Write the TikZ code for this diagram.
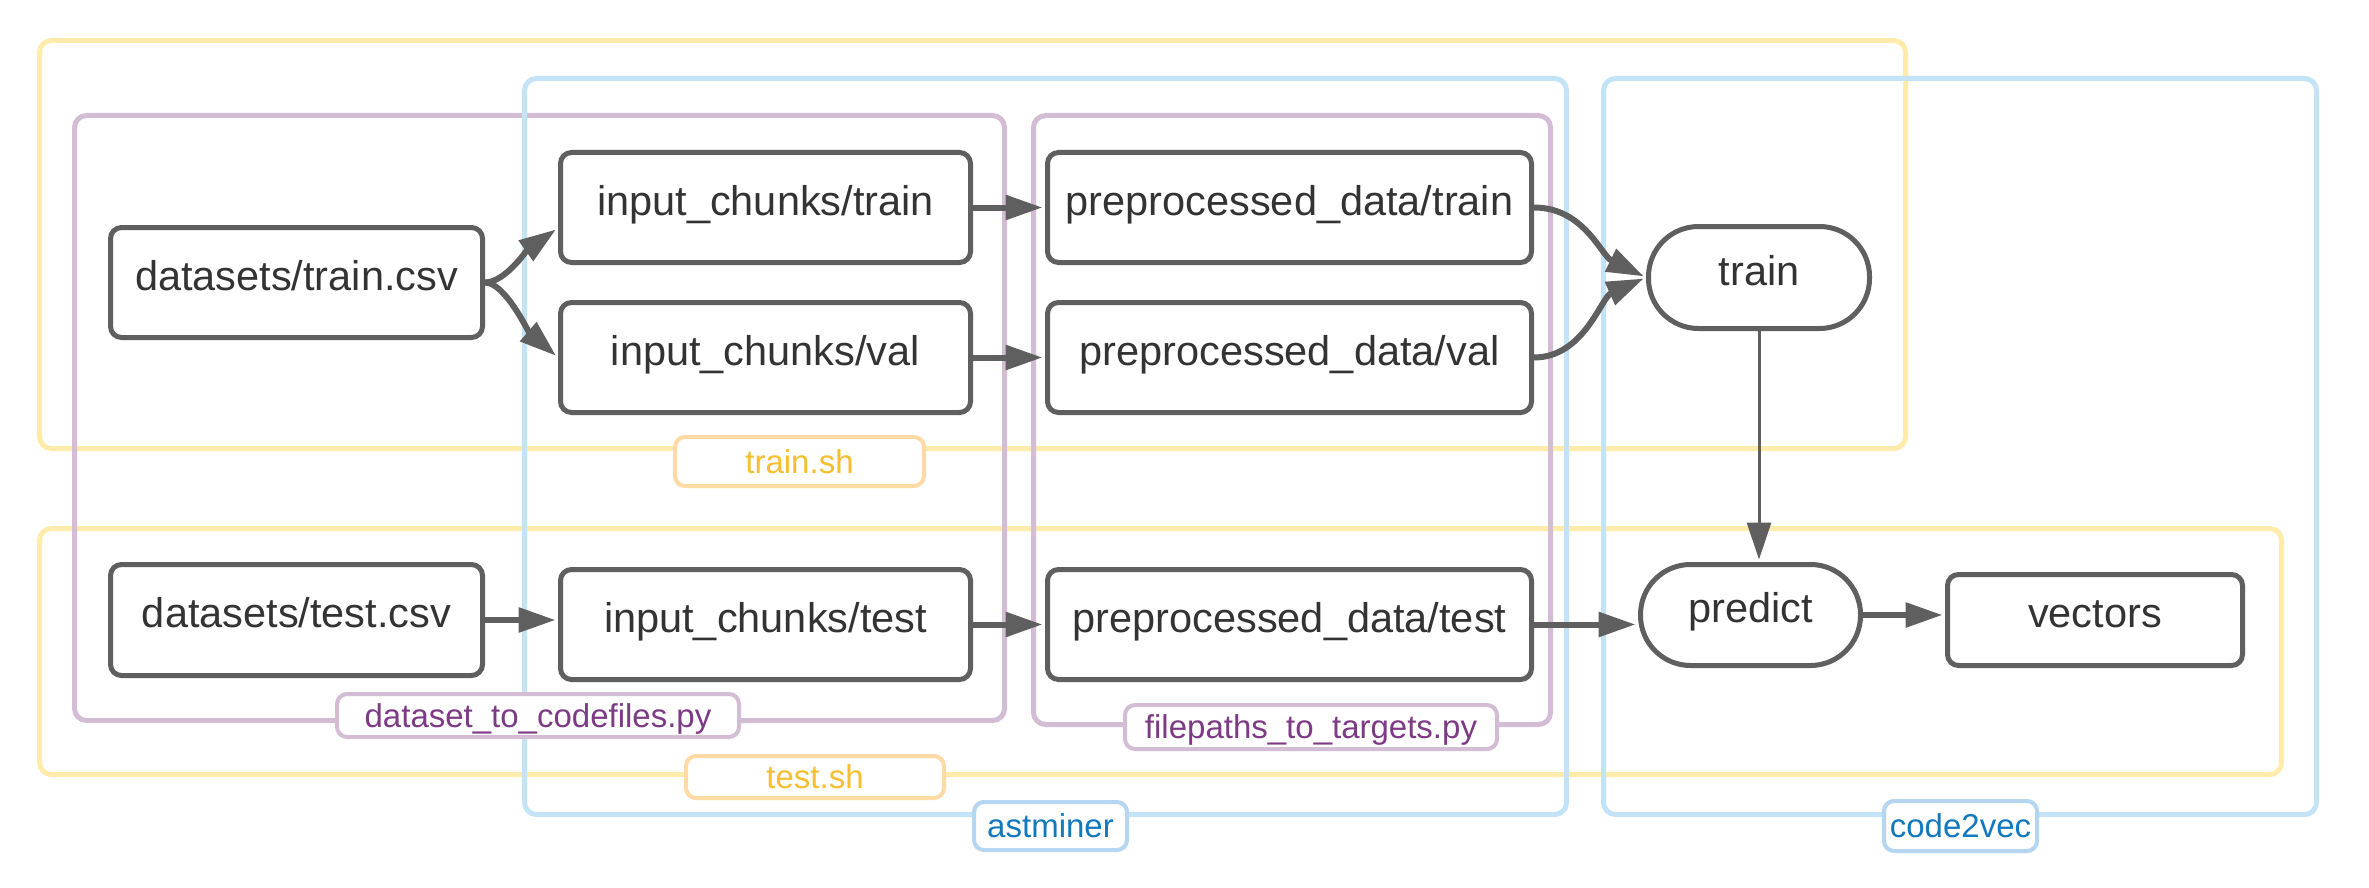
\documentclass[tikz,border=0pt]{standalone}
\usepackage{fontspec}
\setmainfont{Liberation Sans}
\usetikzlibrary{arrows.meta,calc}
\definecolor{cyellow}{HTML}{FFECAA}
\definecolor{cpeach}{HTML}{FFDAA5}
\definecolor{cgold}{HTML}{F7BF30}
\definecolor{cblue}{HTML}{C3E4F6}
\definecolor{cbluelbl}{HTML}{B5D6F0}
\definecolor{cbluetxt}{HTML}{1279BD}
\definecolor{cpurple}{HTML}{D3BDD4}
\definecolor{cpurpletxt}{HTML}{7D3A85}
\definecolor{cgray}{HTML}{5F5F5F}
\definecolor{ctext}{HTML}{333333}
\begin{document}
\begin{tikzpicture}[x=1pt,y=-1pt,
  container/.style={line width=5pt, rounded corners=12pt},
  ylwbox/.style={container, draw=cyellow},
  bluebox/.style={container, draw=cblue},
  purbox/.style={container, draw=cpurple},
  lbl/.style={line width=4pt, fill=white, rounded corners=10pt, inner sep=0pt,
    font=\fontsize{33}{40}\selectfont, text height=23pt, text depth=0pt},
  ylwlbl/.style={lbl, draw=cpeach, text=cgold},
  bluelbl/.style={lbl, draw=cbluelbl, text=cbluetxt},
  purlbl/.style={lbl, draw=cpurple, text=cpurpletxt},
  stepbox/.style={draw=cgray, line width=5pt, fill=white, rounded corners=11pt,
    inner sep=0pt, font=\fontsize{41.5}{50}\selectfont, text=ctext,
    text height=30pt, text depth=15pt},
  termbox/.style={stepbox, rounded corners=50pt},
  conn/.style={draw=cgray, line width=6pt, -{Triangle[length=37pt,width=24pt]}, shorten >=2.5pt},
  thinconn/.style={conn, line width=3pt}
]
\fill[white] (0,0) rectangle (2369,888);
\path[use as bounding box] (0,0) rectangle (2369,888);

% containers
\draw[ylwbox] (39.5,40.5) rectangle (1905.5,448.5);
\draw[ylwbox] (39.5,528.5) rectangle (2281.5,774.5);
\draw[purbox] (74.5,115.5) rectangle (1004.5,720.5);
\draw[purbox] (1033.5,115.5) rectangle (1550.5,724.5);
\draw[bluebox] (524.5,78.5) rectangle (1566.5,814.5);
\draw[bluebox] (1603.5,78.5) rectangle (2316.5,814.5);

% container labels
\node[ylwlbl, minimum width=249pt, minimum height=49pt] (ltrain) at (799.5,461.5) {train.sh};
\node[ylwlbl, minimum width=258pt, minimum height=42pt] (ltest) at (815,777) {test.sh};
\node[purlbl, minimum width=402pt, minimum height=43pt] (ld2c) at (538,715.5) {dataset\_to\_codefiles.py};
\node[purlbl, minimum width=372pt, minimum height=44pt] (lf2t) at (1311,727) {filepaths\_to\_targets.py};
\node[bluelbl, minimum width=153pt, minimum height=48pt] (last) at (1050.5,826) {astminer};
\node[bluelbl, minimum width=153pt, minimum height=50pt] (lc2v) at (1960.5,826) {code2vec};

% nodes
\node[stepbox, minimum width=372pt, minimum height=110pt] (dtr) at (296.5,282.5) {datasets/train.csv};
\node[stepbox, minimum width=410pt, minimum height=110pt] (ict) at (765.5,207.5) {input\_chunks/train};
\node[stepbox, minimum width=410pt, minimum height=110pt] (icv) at (765.5,357.5) {input\_chunks/val};
\node[stepbox, minimum width=484pt, minimum height=110pt] (pdt) at (1289.5,207.5) {preprocessed\_data/train};
\node[stepbox, minimum width=484pt, minimum height=110pt] (pdv) at (1289.5,357.5) {preprocessed\_data/val};
\node[termbox, minimum width=221pt, minimum height=102pt] (trn) at (1759,277.5) {train};
\node[stepbox, minimum width=372pt, minimum height=111pt] (dte) at (296.5,620) {datasets/test.csv};
\node[stepbox, minimum width=410pt, minimum height=110pt] (ice) at (765.5,624.5) {input\_chunks/test};
\node[stepbox, minimum width=484pt, minimum height=110pt] (pde) at (1289.5,624.5) {preprocessed\_data/test};
\node[termbox, minimum width=220pt, minimum height=101pt] (prd) at (1750.5,615) {predict};
\node[stepbox, minimum width=295pt, minimum height=91pt] (vec) at (2095,620) {vectors};

% connectors
\draw[conn] (dtr.east) .. controls ($(dtr.east)+(20,0)$) and ($(ict.west)+(-31,42.5)$) .. ($(ict.west)+(0,20.5)$);
\draw[conn] (dtr.east) .. controls ($(dtr.east)+(20,0)$) and ($(icv.west)+(-30,-26)$) .. (icv.west);
\draw[conn] (ict) -- (pdt);
\draw[conn] (icv) -- (pdv);
\draw[conn] (pdt.east) .. controls ($(pdt.east)+(50,0)$) and ($(trn.west)+(-45,-22)$) .. (trn.west);
\draw[conn] (pdv.east) .. controls ($(pdv.east)+(50,0)$) and ($(trn.west)+(-45,20)$) .. (trn.west);
\draw[thinconn] (trn.south) -- (trn.south |- prd.north);
\draw[conn] (dte.east) -- (dte.east -| ice.west);
\draw[conn] (ice) -- (pde);
\draw[conn] (pde.east) -- (pde.east -| prd.west);
\draw[conn] (prd.east) -- (prd.east -| vec.west);
\end{tikzpicture}
\end{document}
